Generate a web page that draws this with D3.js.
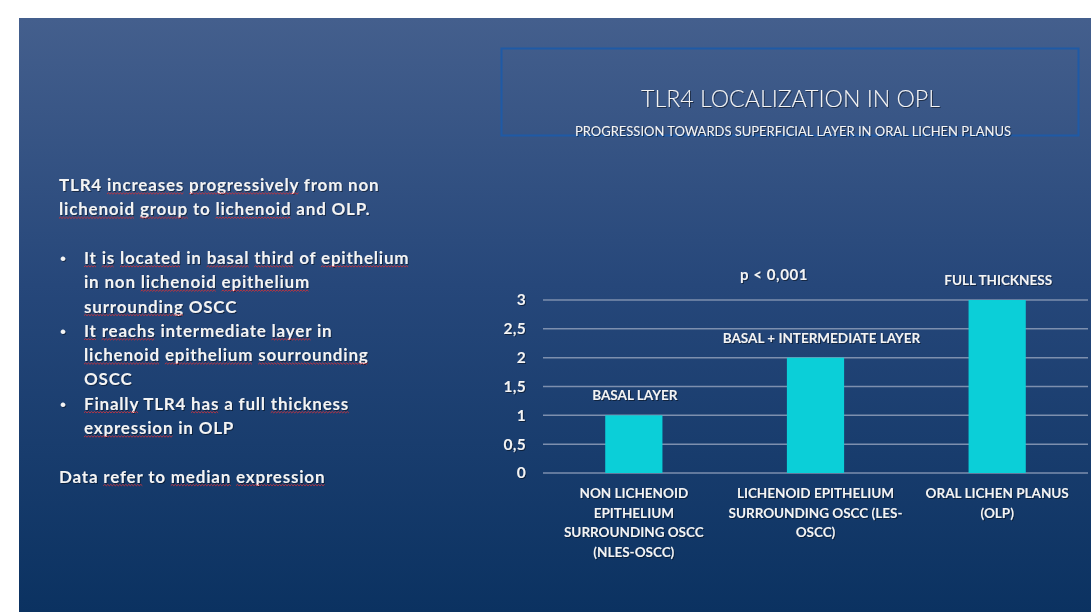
<!DOCTYPE html>
<html><head><meta charset="utf-8">
<script src="https://cdn.jsdelivr.net/npm/d3@7/dist/d3.min.js"></script>
<style>html,body{margin:0;padding:0;background:#fff;}svg{display:block;}</style>
</head><body>
<script>
// ---- data ----
const categories = ["NON LICHENOID EPITHELIUM SURROUNDING OSCC (NLES-OSCC)", "LICHENOID EPITHELIUM SURROUNDING OSCC (LES-OSCC)", "ORAL LICHEN PLANUS (OLP)"];
const categoryLines = [
  ["NON LICHENOID", "EPITHELIUM", "SURROUNDING OSCC", "(NLES-OSCC)"],
  ["LICHENOID EPITHELIUM", "SURROUNDING OSCC (LES-", "OSCC)"],
  ["ORAL LICHEN PLANUS", "(OLP)"]
];
const values = [1, 2, 3];
const barLabels = ["BASAL LAYER", "BASAL + INTERMEDIATE LAYER", "FULL THICKNESS"];
const yTicks = [0, 0.5, 1, 1.5, 2, 2.5, 3];
const yTickLabels = ["0", "0,5", "1", "1,5", "2", "2,5", "3"];
const title = "TLR4 LOCALIZATION IN OPL";
const subtitle = "PROGRESSION TOWARDS SUPERFICIAL LAYER IN ORAL LICHEN PLANUS";
const pLabel = "p < 0,001";
// [word] = spell-check underlined
const leftLines = [
  {row: 0, bullet: false, t: "TLR4 [increases] [progressively] from non"},
  {row: 1, bullet: false, t: "[lichenoid] [group] to [lichenoid] and OLP."},
  {row: 3, bullet: true,  t: "[It] [is] [located] in [basal] [third] of [epithelium]"},
  {row: 4, bullet: null,  t: "in non [lichenoid] [epithelium]"},
  {row: 5, bullet: null,  t: "[surrounding] OSCC"},
  {row: 6, bullet: true,  t: "[It] [reachs] intermediate [layer] in"},
  {row: 7, bullet: null,  t: "[lichenoid] [epithelium] [sourrounding]"},
  {row: 8, bullet: null,  t: "OSCC"},
  {row: 9, bullet: true,  t: "[Finally] TLR4 [has] a full [thickness]"},
  {row: 10, bullet: null, t: "[expression] in OLP"},
  {row: 12, bullet: false, t: "Data [refer] to [median] [expression]"}
];

// ---- drawing ----
const W = 1091, H = 612;
const svg = d3.select("body").append("svg").attr("width", W).attr("height", H);
const defs = svg.append("defs");
const grad = defs.append("linearGradient").attr("id", "bg").attr("x1", 0).attr("y1", 0).attr("x2", 0).attr("y2", 1);
grad.append("stop").attr("offset", "0%").attr("stop-color", "#445f8d");
grad.append("stop").attr("offset", "45%").attr("stop-color", "#26477a");
grad.append("stop").attr("offset", "100%").attr("stop-color", "#0b3261");
const sh = defs.append("filter").attr("id", "sh").attr("x", "-5%").attr("y", "-30%").attr("width", "110%").attr("height", "160%");
sh.append("feDropShadow").attr("dx", 1).attr("dy", 1).attr("stdDeviation", 0.6).attr("flood-color", "#000").attr("flood-opacity", 0.45);

svg.append("rect").attr("x", 19).attr("y", 18).attr("width", W - 19).attr("height", H - 18).attr("fill", "url(#bg)");

const txtCol = "#f4f4f4";
const boldFont = "Lato, 'Open Sans', sans-serif";

// title box
svg.append("rect").attr("x", 501.5).attr("y", 48.5).attr("width", 577).attr("height", 87)
  .attr("fill", "none").attr("stroke", "#1f5aa6").attr("stroke-width", 2);
svg.append("text").attr("x", 790.5).attr("y", 107).attr("text-anchor", "middle")
  .attr("font-family", "Lato, 'Open Sans', sans-serif").attr("font-weight", 300).attr("font-size", 22.5)
  .attr("textLength", 299).attr("lengthAdjust", "spacingAndGlyphs")
  .attr("fill", txtCol).attr("filter", "url(#sh)").text(title);
svg.append("text").attr("x", 793).attr("y", 136).attr("text-anchor", "middle")
  .attr("font-family", "Lato, 'Open Sans', sans-serif").attr("font-size", 13)
  .attr("textLength", 436).attr("lengthAdjust", "spacingAndGlyphs")
  .attr("fill", txtCol).attr("filter", "url(#sh)").text(subtitle);

// chart
const x = d3.scaleBand().domain(categories).range([543, 1088]).paddingInner(0.685).paddingOuter(0.3425);
const y = d3.scaleLinear().domain([0, 3]).range([473, 300]);

const grid = svg.append("g");
grid.selectAll("line").data(yTicks).join("line")
  .attr("x1", 543).attr("x2", 1088)
  .attr("y1", d => y(d)).attr("y2", d => y(d))
  .attr("stroke", "#7d8fae").attr("stroke-width", 1.5);

const yAxis = d3.axisLeft(y).tickValues(yTicks).tickSize(0).tickPadding(0)
  .tickFormat((d, i) => yTickLabels[i]);
const ya = svg.append("g").attr("transform", "translate(526,0)").call(yAxis);
ya.select(".domain").remove();
ya.selectAll("text").attr("font-family", boldFont).attr("font-weight", 700).attr("font-size", 15.5)
  .attr("letter-spacing", 0.3).attr("fill", txtCol).attr("filter", "url(#sh)");

svg.append("g").selectAll("rect").data(values).join("rect")
  .attr("x", (d, i) => x(categories[i])).attr("width", x.bandwidth())
  .attr("y", d => y(d)).attr("height", d => y(0) - y(d))
  .attr("fill", "#0bcfd8");

svg.append("g").selectAll("text").data(values).join("text")
  .attr("x", (d, i) => x(categories[i]) + x.bandwidth() / 2 + (i === 1 ? 6 : 1))
  .attr("y", d => y(d) - 15).attr("text-anchor", "middle")
  .attr("font-family", boldFont).attr("font-weight", 700).attr("font-size", 13.5)
  .attr("fill", txtCol).attr("filter", "url(#sh)")
  .text((d, i) => barLabels[i]);

svg.append("text").attr("x", 774).attr("y", 280).attr("text-anchor", "middle")
  .attr("font-family", boldFont).attr("font-weight", 700).attr("font-size", 15)
  .attr("letter-spacing", 0.6)
  .attr("fill", txtCol).attr("filter", "url(#sh)").text(pLabel);

const xl = svg.append("g");
categoryLines.forEach((lines, i) => {
  const cx = x(categories[i]) + x.bandwidth() / 2;
  const t = xl.append("text").attr("text-anchor", "middle")
    .attr("font-family", boldFont).attr("font-weight", 700).attr("font-size", 13.5)
    .attr("fill", txtCol).attr("filter", "url(#sh)");
  lines.forEach((ln, k) => {
    t.append("tspan").attr("x", cx).attr("y", 498 + k * 19.5).text(ln);
  });
});

// left text block
const lg = svg.append("g");
const under = svg.append("g");
leftLines.forEach(L => {
  const by = 191 + L.row * 24.3;
  const tx = L.bullet === false ? 59 : 84;
  if (L.bullet) {
    lg.append("text").attr("x", 60).attr("y", by).attr("font-family", "'Liberation Sans', Arial, sans-serif")
      .attr("font-size", 17).attr("fill", txtCol).attr("filter", "url(#sh)").text("\u2022");
  }
  const parts = [];
  const re = /\[([^\]]+)\]|([^\[]+)/g;
  let m;
  while ((m = re.exec(L.t)) !== null) {
    if (m[1]) parts.push({s: m[1], u: true}); else parts.push({s: m[2], u: false});
  }
  const t = lg.append("text").attr("x", tx).attr("y", by)
    .attr("font-family", boldFont).attr("font-weight", 700).attr("font-size", 17)
    .attr("letter-spacing", 0.8)
    .attr("fill", txtCol).attr("filter", "url(#sh)").attr("xml:space", "preserve")
    .style("white-space", "pre");
  parts.forEach(p => t.append("tspan").text(p.s));
  const node = t.node();
  let idx = 0;
  parts.forEach(p => {
    if (p.u) {
      const x0 = node.getStartPositionOfChar(idx).x;
      const x1 = node.getEndPositionOfChar(idx + p.s.length - 1).x;
      let d = "M" + x0 + "," + (by + 3);
      let up = true;
      for (let xx = x0 + 1.5; xx <= x1; xx += 1.5) {
        d += "L" + xx + "," + (by + (up ? 1.8 : 3.2));
        up = !up;
      }
      under.append("path").attr("d", d).attr("fill", "none").attr("stroke", "#c8323c").attr("stroke-width", 0.9);
    }
    idx += p.s.length;
  });
});
</script>
</body></html>
